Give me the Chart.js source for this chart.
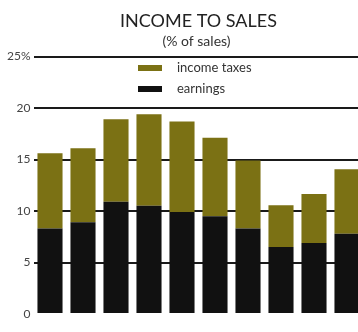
<!DOCTYPE html>
<html>
<head>
<meta charset="utf-8">
<script src="https://cdn.jsdelivr.net/npm/chart.js@4.4.1/dist/chart.umd.min.js"></script>
<style>
  html, body { margin: 0; padding: 0; background: #fff; overflow: hidden; }
  #wrap { position: relative; width: 366px; height: 332px; }
</style>
</head>
<body>
<div id="wrap"><canvas id="myChart"></canvas></div>
<script>
// years 1964-1973, percent of sales
var years = ['64', '65', '66', '67', '68', '69', '70', '71', '72', '73'];
var earnings = [8.3, 8.9, 10.9, 10.5, 9.9, 9.5, 8.3, 6.5, 6.9, 7.8];
var incomeTaxes = [7.3, 7.2, 8.0, 8.9, 8.8, 7.6, 6.6, 4.05, 4.75, 6.25];
var yTicks = [0, 5, 10, 15, 20, 25];
var titleText = 'INCOME TO SALES';
var subtitleText = '(% of sales)';

var OLIVE = '#7b7114';
var BLACK = '#111111';
var FONT = 'Lato, "DejaVu Sans", sans-serif';

// heading sits a little right of the canvas centre, over the bars
var heading = {
  id: 'heading',
  afterDraw: function (chart) {
    var ctx = chart.ctx;
    ctx.save();
    ctx.textAlign = 'center';
    ctx.textBaseline = 'alphabetic';
    ctx.fillStyle = '#222';
    ctx.font = '18px ' + FONT;
    ctx.fillText(titleText, 198.5, 27);
    ctx.fillStyle = '#333';
    ctx.font = '14px ' + FONT;
    ctx.fillText(subtitleText, 196.5, 46);
    ctx.restore();
  }
};

// legend drawn inside the plot, stacked, taxes first
var stackedLegend = {
  id: 'stackedLegend',
  afterDatasetsDraw: function (chart) {
    var ctx = chart.ctx;
    var items = chart.data.datasets.slice().reverse();
    ctx.save();
    ctx.font = '13px ' + FONT;
    ctx.textBaseline = 'middle';
    items.forEach(function (ds, i) {
      var y = 68 + i * 21;
      ctx.fillStyle = ds.backgroundColor;
      ctx.fillRect(138, y - 3, 24, 6);
      ctx.fillStyle = '#333';
      ctx.fillText(ds.label, 177, y);
    });
    ctx.restore();
  }
};

var myChart = new Chart(document.getElementById('myChart'), {
  type: 'bar',
  data: {
    labels: years,
    datasets: [
      { label: 'earnings', data: earnings, backgroundColor: BLACK },
      { label: 'income taxes', data: incomeTaxes, backgroundColor: OLIVE }
    ]
  },
  plugins: [heading, stackedLegend],
  options: {
    responsive: true,
    maintainAspectRatio: false,
    animation: false,
    layout: { padding: { top: 56.5, right: 2.5, bottom: 0, left: 0 } },
    datasets: {
      bar: { barPercentage: 0.76, categoryPercentage: 1, borderWidth: 0 }
    },
    plugins: {
      legend: { display: false },
      tooltip: { enabled: false }
    },
    scales: {
      x: {
        stacked: true,
        grid: { display: false },
        border: { display: false },
        ticks: { color: '#444', padding: 8, font: { family: FONT, size: 11 } },
        afterFit: function (scale) { scale.height = 18; }
      },
      y: {
        stacked: true,
        min: 0,
        max: 25,
        z: 1,
        afterBuildTicks: function (scale) {
          scale.ticks = yTicks.map(function (v) { return { value: v }; });
        },
        afterFit: function (scale) { scale.width = 33.5; },
        border: { display: false },
        grid: {
          drawTicks: false,
          lineWidth: 2,
          color: function (c) { return c.tick && c.tick.value === 0 ? 'rgba(0,0,0,0)' : '#1a1a1a'; }
        },
        ticks: {
          color: '#444',
          padding: 3,
          font: { family: FONT, size: 12 },
          callback: function (v) { return v === 25 ? '25%' : v; }
        }
      }
    }
  }
});
</script>
</body>
</html>
